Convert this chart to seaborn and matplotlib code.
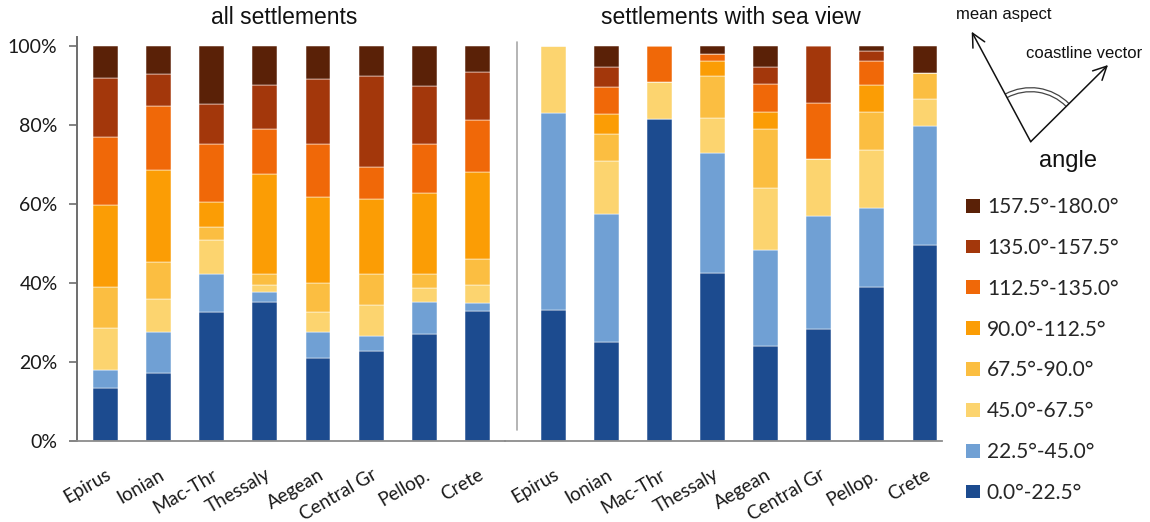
import matplotlib
matplotlib.use("Agg")
import numpy as np
import pandas as pd
import matplotlib.pyplot as plt
from matplotlib.patches import Patch, Arc
import seaborn as sns

regions = ["Epirus", "Ionian", "Mac-Thr", "Thessaly", "Aegean", "Central Gr", "Pellop.", "Crete"]
bands = ["0.0°-22.5°", "22.5°-45.0°", "45.0°-67.5°", "67.5°-90.0°",
         "90.0°-112.5°", "112.5°-135.0°", "135.0°-157.5°", "157.5°-180.0°"]
band_colors = ["#1c4b8f", "#70a0d4", "#fcd46f", "#fbbe41",
               "#fb9d05", "#f06808", "#a3370b", "#5a2107"]
y_ticks = [0, 20, 40, 60, 80, 100]

# share (%) of settlements per angle class -- all settlements
all_000_225 = [13.5, 17.1, 32.6, 35.1, 20.9, 22.8, 27.1, 32.8]
all_225_450 = [4.6, 10.6, 9.8, 2.7, 6.8, 3.8, 8.2, 2.2]
all_450_675 = [10.5, 8.2, 8.4, 1.7, 4.9, 7.8, 3.5, 4.5]
all_675_900 = [10.3, 9.4, 3.3, 2.7, 7.3, 7.8, 3.4, 6.6]
all_900_1125 = [20.9, 23.2, 6.5, 25.4, 21.9, 19.2, 20.6, 21.9]
all_1125_1350 = [17.1, 16.4, 14.7, 11.3, 13.5, 7.9, 12.5, 13.3]
all_1350_1575 = [15.1, 8.1, 10.0, 11.2, 16.3, 23.0, 14.5, 12.2]
all_1575_1800 = [8.0, 7.0, 14.7, 9.9, 8.4, 7.7, 10.2, 6.5]

# share (%) of settlements per angle class -- settlements with sea view
sea_000_225 = [33.2, 25.0, 81.6, 42.6, 24.1, 28.3, 39.0, 49.7]
sea_225_450 = [49.9, 32.4, 0.0, 30.4, 24.3, 28.6, 20.1, 30.1]
sea_450_675 = [16.9, 13.6, 9.2, 8.7, 15.7, 14.4, 14.5, 6.8]
sea_675_900 = [0.0, 6.7, 0.0, 10.7, 14.9, 0.0, 9.6, 6.5]
sea_900_1125 = [0.0, 5.1, 0.0, 3.9, 4.3, 0.0, 7.0, 0.0]
sea_1125_1350 = [0.0, 6.9, 9.2, 1.8, 7.1, 14.3, 6.1, 0.0]
sea_1350_1575 = [0.0, 5.1, 0.0, 0.0, 4.4, 14.4, 2.5, 0.0]
sea_1575_1800 = [0.0, 5.2, 0.0, 1.9, 5.2, 0.0, 1.2, 6.9]

all_series = [all_000_225, all_225_450, all_450_675, all_675_900,
              all_900_1125, all_1125_1350, all_1350_1575, all_1575_1800]
sea_series = [sea_000_225, sea_225_450, sea_450_675, sea_675_900,
              sea_900_1125, sea_1125_1350, sea_1350_1575, sea_1575_1800]

rows = []
for panel, series in (("all", all_series), ("sea", sea_series)):
    for band, vals in zip(bands, series):
        for reg, v in zip(regions, vals):
            rows.append({"panel": panel, "band": band, "region": reg, "share": v})
df = pd.DataFrame(rows)

sns.set_style("white")
plt.rcParams["font.family"] = ["Lato", "DejaVu Sans"]
plt.rcParams["axes.unicode_minus"] = False

W, H = 1150, 522
fig = plt.figure(figsize=(W / 100, H / 100), dpi=100)
fig.patch.set_facecolor("white")


def fx(px):
    return px / W


def fy(py):
    return 1 - py / H


ax_top, ax_bot = 37, 441
ax_all = fig.add_axes([fx(77), fy(ax_bot), fx(505 - 77), (ax_bot - ax_top) / H])
ax_sea = fig.add_axes([fx(505), fy(ax_bot), fx(942 - 505), (ax_bot - ax_top) / H])

for ax, panel in ((ax_all, "all"), (ax_sea, "sea")):
    sub = df[df["panel"] == panel]
    bottom = np.zeros(len(regions))
    for band, col in zip(bands, band_colors):
        layer = sub[sub["band"] == band].set_index("region").loc[regions].reset_index()
        sns.barplot(data=layer, x="region", y="share", order=regions, color=col,
                    width=0.47, bottom=bottom, errorbar=None, ax=ax,
                    edgecolor="#ffffff", linewidth=0.35, saturation=1)
        bottom = bottom + layer["share"].to_numpy()
    ax.set_xlabel("")
    ax.set_ylabel("")
    ax.set_ylim(0, 102.3)
    ax.set_facecolor("none")
    for s in ("top", "right"):
        ax.spines[s].set_visible(False)
    ax.spines["bottom"].set_color("#8c8c8c")
    ax.spines["bottom"].set_linewidth(1.3)
    ax.tick_params(axis="x", length=0, pad=18)
    ax.set_xticks(range(len(regions)))
    ax.set_xticklabels(regions, rotation=30, ha="right", va="top",
                       rotation_mode="anchor", fontsize=13.5, color="#1a1a1a")

ax_all.set_xlim(-0.537, 7.52)
ax_sea.set_xlim(-0.91, 7.32)

ax_all.spines["left"].set_color("#6e6e6e")
ax_all.spines["left"].set_linewidth(1.4)
ax_all.set_yticks(y_ticks)
ax_all.set_yticklabels([f"{v}%" for v in y_ticks], fontsize=14, color="#1a1a1a")
ax_all.tick_params(axis="y", left=True, length=6, width=1.2, color="#6e6e6e", pad=8)

ax_sea.spines["left"].set_visible(False)
ax_sea.set_yticks([])

# panel titles
fig.text(fx(284), fy(18), "all settlements", ha="center", va="center",
         fontsize=16.5, family="Liberation Sans", color="#111111")
fig.text(fx(731), fy(18), "settlements with sea view", ha="center", va="center",
         fontsize=16.5, family="Liberation Sans", color="#111111")

# overlay in pixel units: panel separator and the angle sketch
ov = fig.add_axes([0, 0, 1, 1])
ov.set_xlim(0, W)
ov.set_ylim(0, H)
ov.set_axis_off()
ov.patch.set_alpha(0)

ov.plot([516.5, 516.5], [H - 42, H - 430], color="#a8a8a8", lw=1.2)

vx, vy = 1030.7, H - 141.7
ov.annotate("", xy=(971.7, H - 31.7), xytext=(vx, vy),
            arrowprops=dict(arrowstyle="->", lw=1.1, color="#111111",
                            mutation_scale=24, shrinkA=0, shrinkB=0))
ov.annotate("", xy=(1108, H - 65), xytext=(vx, vy),
            arrowprops=dict(arrowstyle="->", lw=1.1, color="#111111",
                            mutation_scale=24, shrinkA=0, shrinkB=0))
for r in (50, 54):
    ov.add_patch(Arc((vx, vy), 2 * r, 2 * r, theta1=44.8, theta2=118.2,
                     color="#444444", lw=0.9))
ov.text(1003.5, H - 15, "mean aspect", ha="center", va="center",
        fontsize=12, family="Liberation Sans", color="#111111")
ov.text(1084.5, H - 53, "coastline vector", ha="center", va="center",
        fontsize=12, family="Liberation Sans", color="#111111")
ov.text(1067.5, H - 161, "angle", ha="center", va="center",
        fontsize=17, family="Liberation Sans", color="#111111")

# legend, warmest class on top
handles = [Patch(facecolor=c, edgecolor="none") for c in band_colors[::-1]]
fig.legend(handles, bands[::-1], loc="upper left",
           bbox_to_anchor=(fx(966), fy(197)), frameon=False,
           fontsize=15, handlelength=0.65, handleheight=0.65,
           handletextpad=0.35, labelspacing=1.0, borderpad=0, borderaxespad=0)

fig.savefig("out.png", dpi=100, facecolor="white")
